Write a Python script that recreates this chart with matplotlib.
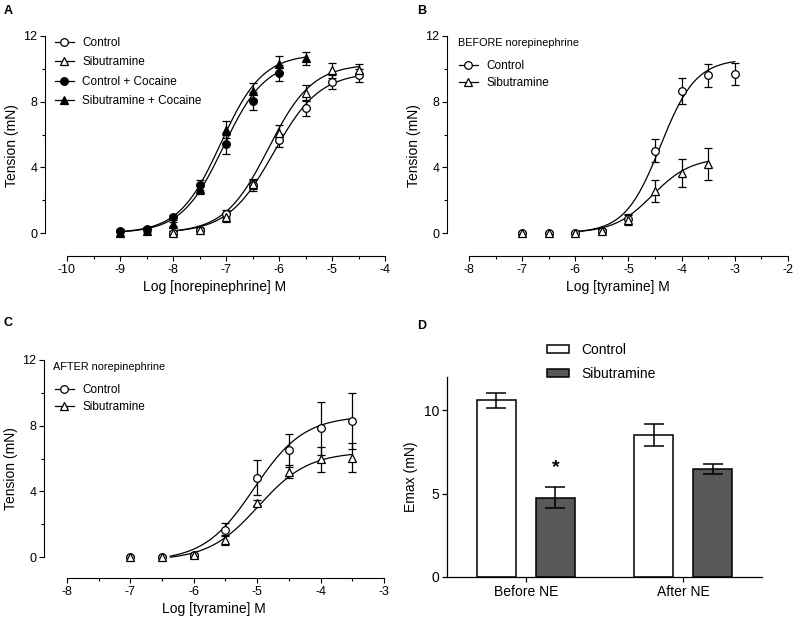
import numpy as np
import matplotlib
matplotlib.use("Agg")
import matplotlib.pyplot as plt
from matplotlib.ticker import MultipleLocator

plt.rcParams['font.family'] = ['Liberation Sans', 'DejaVu Sans']
plt.rcParams['axes.unicode_minus'] = False

# ---- panel A: norepinephrine concentration-response ----
a_x_ctrl = [-8, -7.5, -7, -6.5, -6, -5.5, -5, -4.5]
a_ctrl = [0.0, 0.2, 1.15, 2.9, 5.65, 7.6, 9.2, 9.6]
a_ctrl_err = [0.1, 0.1, 0.25, 0.35, 0.4, 0.45, 0.4, 0.4]
a_sib = [0.0, 0.2, 0.95, 3.0, 6.1, 8.55, 9.9, 9.95]
a_sib_err = [0.1, 0.1, 0.25, 0.3, 0.45, 0.45, 0.45, 0.35]
a_x_ccoc = [-9, -8.5, -8, -7.5, -7, -6.5, -6]
a_ccoc = [0.15, 0.25, 0.97, 2.9, 5.4, 8.05, 9.75]
a_ccoc_err = [0.1, 0.1, 0.15, 0.3, 0.6, 0.55, 0.5]
a_x_scoc = [-9, -8.5, -8, -7.5, -7, -6.5, -6, -5.5]
a_scoc = [0.0, 0.15, 0.55, 2.7, 6.3, 8.65, 10.3, 10.65]
a_scoc_err = [0.1, 0.1, 0.15, 0.3, 0.5, 0.5, 0.5, 0.4]
# fitted sigmoid parameters: bottom, top, logEC50, hill, x range
a_fit = {
    'Control': (0.0, 9.8, -6.1, 1.0, -8, -4.5),
    'Sibutramine': (0.0, 10.3, -6.2, 1.05, -8, -4.5),
    'Control + Cocaine': (0.0, 10.5, -7.05, 1.1, -9, -6),
    'Sibutramine + Cocaine': (0.0, 10.9, -7.1, 1.1, -9, -5.5),
}

# ---- panel B: tyramine before norepinephrine ----
b_x = [-7, -6.5, -6, -5.5, -5, -4.5, -4, -3.5, -3]
b_ctrl = [0.0, 0.0, 0.0, 0.15, 0.87, 5.0, 8.66, 9.6, 9.68]
b_ctrl_err = [0.05, 0.05, 0.05, 0.1, 0.3, 0.7, 0.8, 0.7, 0.65]
b_x_sib = [-7, -6.5, -6, -5.5, -5, -4.5, -4, -3.5]
b_sib = [0.0, 0.0, 0.0, 0.12, 0.77, 2.54, 3.68, 4.2]
b_sib_err = [0.05, 0.05, 0.05, 0.1, 0.3, 0.68, 0.85, 0.97]
b_fit = {
    'Control': (0.0, 10.6, -4.4, 1.3, -6, -3),
    'Sibutramine': (0.0, 4.6, -4.55, 1.2, -6, -3.5),
}

# ---- panel C: tyramine after norepinephrine ----
c_x = [-7, -6.5, -6, -5.5, -5, -4.5, -4, -3.5]
c_ctrl = [0.0, 0.0, 0.1, 1.67, 4.84, 6.5, 7.83, 8.28]
c_ctrl_err = [0.05, 0.05, 0.1, 0.4, 1.05, 1.0, 1.6, 1.68]
c_sib = [0.0, 0.0, 0.1, 1.06, 3.31, 5.19, 5.94, 6.06]
c_sib_err = [0.05, 0.05, 0.1, 0.3, 0.15, 0.4, 0.75, 0.88]
c_fit = {
    'Control': (-0.25, 8.6, -5.05, 1.1, -6.37, -3.5),
    'Sibutramine': (-0.2, 6.4, -4.98, 1.1, -6.37, -3.5),
}

# ---- panel D: Emax ----
d_groups = ['Before NE', 'After NE']
d_ctrl = [10.6, 8.55]
d_ctrl_err = [0.47, 0.66]
d_sib = [4.76, 6.47]
d_sib_err = [0.63, 0.31]


def sigmoid(x, bottom, top, ec50, h):
    return bottom + (top - bottom) / (1 + 10 ** ((ec50 - x) * h))


def draw_fit(ax, p):
    bottom, top, ec50, h, x0, x1 = p
    xs = np.linspace(x0, x1, 200)
    ax.plot(xs, sigmoid(xs, bottom, top, ec50, h), color='black', lw=0.9, zorder=2)


def series(ax, x, y, e, marker, filled, label):
    fc = 'black' if filled else 'white'
    ax.errorbar(x, y, yerr=e, fmt='none', ecolor='black', elinewidth=0.9,
                capsize=3.2, capthick=0.9, zorder=3)
    ax.plot(x, y, linestyle='none', marker=marker, ms=5.5, mfc=fc,
            mec='black', mew=0.9, zorder=4)
    # legend proxy: short line with marker
    ax.plot([], [], color='black', lw=0.9, marker=marker, ms=5.5, mfc=fc,
            mec='black', mew=0.9, label=label)


def style_curve_axes(ax, xlim, xbounds, ylow):
    ax.set_xlim(*xlim)
    ax.set_ylim(ylow, 12)
    for s in ['top', 'right']:
        ax.spines[s].set_visible(False)
    ax.spines['left'].set_bounds(0, 12)
    ax.spines['bottom'].set_bounds(*xbounds)
    for s in ['left', 'bottom']:
        ax.spines[s].set_linewidth(0.8)
    ax.set_yticks([0, 4, 8, 12])
    ax.yaxis.set_minor_locator(MultipleLocator(2))
    ax.set_xticks(np.arange(xbounds[0], xbounds[1] + 0.5, 1))
    ax.xaxis.set_minor_locator(MultipleLocator(0.5))
    ax.tick_params(which='major', length=3.5, width=0.8, labelsize=9, pad=2)
    ax.tick_params(which='minor', length=2, width=0.8)
    ax.set_ylabel('Tension (mN)', fontsize=10, labelpad=3)


fig = plt.figure(figsize=(7.97, 6.2), dpi=100)
W, H = 797, 620


def px_axes(left, top, right, bottom):
    return fig.add_axes([left / W, 1 - bottom / H, (right - left) / W, (bottom - top) / H])


# ---- A ----
axA = px_axes(45, 36, 385, 256)
for p in a_fit.values():
    draw_fit(axA, p)
series(axA, a_x_ctrl, a_ctrl, a_ctrl_err, 'o', False, 'Control')
series(axA, a_x_ctrl, a_sib, a_sib_err, '^', False, 'Sibutramine')
series(axA, a_x_ccoc, a_ccoc, a_ccoc_err, 'o', True, 'Control + Cocaine')
series(axA, a_x_scoc, a_scoc, a_scoc_err, '^', True, 'Sibutramine + Cocaine')
style_curve_axes(axA, (-10 - 22 / 53, -4), (-10, -4), -1.4)
axA.set_xlabel('Log [norepinephrine] M', fontsize=10, labelpad=3)
axA.legend(loc='upper left', bbox_to_anchor=(55 / W, 1 - 37 / H), bbox_transform=fig.transFigure,
           frameon=False, fontsize=8.5, handlelength=1.6, handletextpad=0.7,
           labelspacing=0.62, borderpad=0, borderaxespad=0)

# ---- B ----
axB = px_axes(447, 36, 788, 256)
for p in b_fit.values():
    draw_fit(axB, p)
series(axB, b_x, b_ctrl, b_ctrl_err, 'o', False, 'Control')
series(axB, b_x_sib, b_sib, b_sib_err, '^', False, 'Sibutramine')
style_curve_axes(axB, (-8 - 22 / 53.2, -2), (-8, -2), -1.4)
axB.set_xlabel('Log [tyramine] M', fontsize=10, labelpad=3)
fig.text(458 / W, 1 - 43 / H, 'BEFORE norepinephrine', fontsize=7.8, va='center', ha='left')
axB.legend(loc='upper left', bbox_to_anchor=(459 / W, 1 - 60 / H), bbox_transform=fig.transFigure,
           frameon=False, fontsize=8.5, handlelength=1.6, handletextpad=0.7,
           labelspacing=0.45, borderpad=0, borderaxespad=0)

# ---- C ----
axC = px_axes(44, 360, 384, 578)
for p in c_fit.values():
    draw_fit(axC, p)
series(axC, c_x, c_ctrl, c_ctrl_err, 'o', False, 'Control')
series(axC, c_x, c_sib, c_sib_err, '^', False, 'Sibutramine')
style_curve_axes(axC, (-8 - 23 / 63.4, -3), (-8, -3), -21 / 16.42)
axC.set_xlabel('Log [tyramine] M', fontsize=10, labelpad=3)
fig.text(53 / W, 1 - 367 / H, 'AFTER norepinephrine', fontsize=7.8, va='center', ha='left')
axC.legend(loc='upper left', bbox_to_anchor=(55 / W, 1 - 384 / H), bbox_transform=fig.transFigure,
           frameon=False, fontsize=8.5, handlelength=1.6, handletextpad=0.7,
           labelspacing=0.45, borderpad=0, borderaxespad=0)

# ---- D ----
axD = px_axes(447, 377, 762, 577)
xi = np.arange(len(d_groups))
off, bw = 0.1875, 0.25
axD.bar(xi - off, d_ctrl, bw, color='white', edgecolor='black', linewidth=1.1, label='Control', zorder=2)
axD.bar(xi + off, d_sib, bw, color='#595959', edgecolor='black', linewidth=1.1, label='Sibutramine', zorder=2)
axD.errorbar(xi - off, d_ctrl, yerr=d_ctrl_err, fmt='none', ecolor='black', elinewidth=1.1,
             capsize=7, capthick=1.1, zorder=3)
axD.errorbar(xi + off, d_sib, yerr=d_sib_err, fmt='none', ecolor='black', elinewidth=1.1,
             capsize=7, capthick=1.1, zorder=3)
axD.text(xi[0] + off, d_sib[0] + d_sib_err[0] + 1.15, '*', ha='center', va='center',
         fontsize=14, fontweight='bold')
axD.set_xlim(-0.5, 1.5)
axD.set_ylim(0, 12)
axD.set_yticks([0, 5, 10])
axD.set_xticks(xi)
axD.set_xticklabels(d_groups)
for s in ['top', 'right']:
    axD.spines[s].set_visible(False)
for s in ['left', 'bottom']:
    axD.spines[s].set_linewidth(0.9)
axD.tick_params(length=3.5, width=0.9, labelsize=10, pad=2)
axD.set_ylabel('Emax (mN)', fontsize=10, labelpad=4)
axD.legend(loc='upper left', bbox_to_anchor=(547 / W, 1 - 343 / H), bbox_transform=fig.transFigure,
           frameon=False, fontsize=10, handlelength=1.6, handleheight=0.55, handletextpad=0.9,
           labelspacing=0.72, borderpad=0, borderaxespad=0)

# panel letters
for lab, (x, y) in {'A': (4, 11), 'B': (417, 11), 'C': (4, 323), 'D': (417, 326)}.items():
    fig.text(x / W, 1 - y / H, lab, fontsize=9, fontweight='bold', va='center', ha='left')

fig.savefig('out.png', dpi=100)
